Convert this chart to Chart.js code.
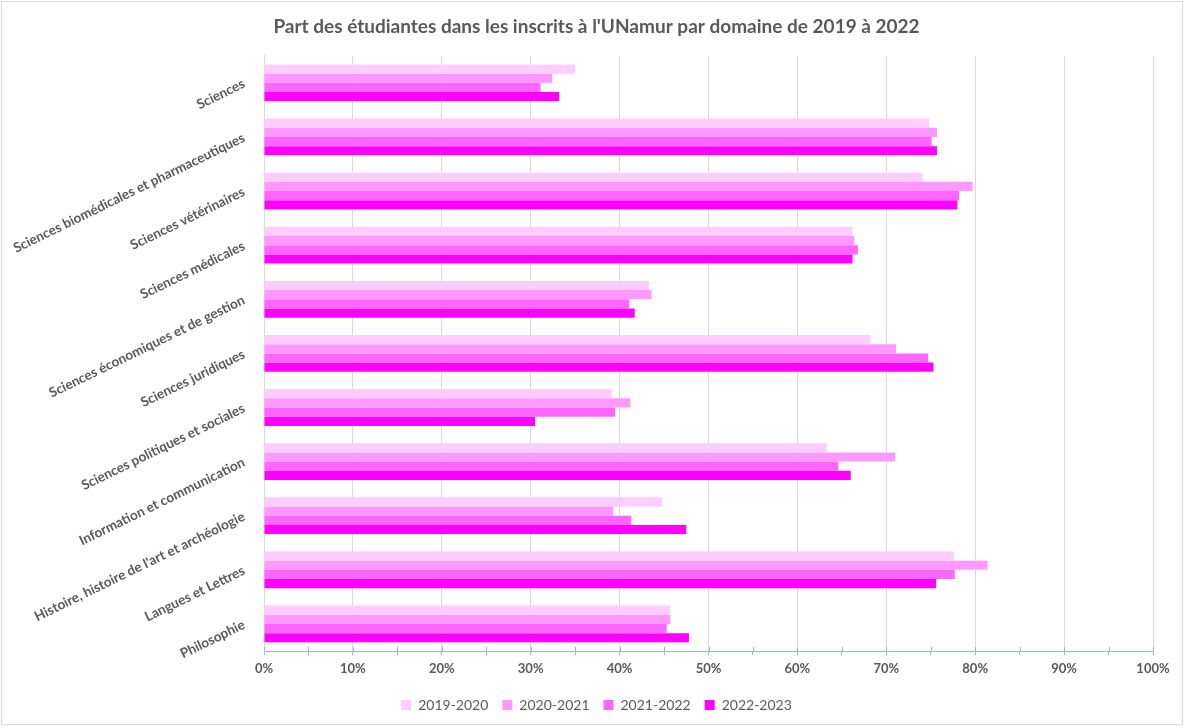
<!DOCTYPE html>
<html lang="fr">
<head>
<meta charset="utf-8">
<title>Part des étudiantes à l'UNamur</title>
<script src="https://cdn.jsdelivr.net/npm/chart.js@4/dist/chart.umd.min.js"></script>
<style>
  html, body { margin: 0; padding: 0; background: #ffffff; }
  #wrap { position: relative; width: 1185px; height: 728px; }
</style>
</head>
<body>
<div id="wrap"><canvas id="chart"></canvas></div>
<script>
// Domaines d'études (axe vertical)
const domaines = [
  'Sciences',
  'Sciences biomédicales et pharmaceutiques',
  'Sciences vétérinaires',
  'Sciences médicales',
  'Sciences économiques et de gestion',
  'Sciences juridiques',
  'Sciences politiques et sociales',
  'Information et communication',
  "Histoire, histoire de l'art et archéologie",
  'Langues et Lettres',
  'Philosophie'
];

// Années académiques
const annees = ['2019-2020', '2020-2021', '2021-2022', '2022-2023'];

// Part des étudiantes (%) par domaine, une liste par année
const part2019 = [35.0, 74.8, 74.1, 66.2, 43.3, 68.2, 39.1, 63.3, 44.8, 77.6, 45.7];
const part2020 = [32.4, 75.7, 79.7, 66.4, 43.6, 71.1, 41.2, 71.0, 39.3, 81.4, 45.7];
const part2021 = [31.1, 75.1, 78.2, 66.8, 41.1, 74.7, 39.5, 64.6, 41.3, 77.7, 45.3];
const part2022 = [33.2, 75.7, 78.0, 66.2, 41.7, 75.3, 30.5, 66.0, 47.5, 75.6, 47.8];

// Graduations de l'axe horizontal
const axeMin = 0;
const axeMax = 100;
const pasLibelle = 10;
const pasGraduation = 5;

const couleurs = ['#ffccff', '#ff99ff', '#ff66ff', '#ff00ff'];
const series = [part2019, part2020, part2021, part2022];

const texteGris = '#595959';
const gris = '#d9d9d9';
const bleuAxe = '#8fb8e4';
const police = 'Lato, Calibri, "Open Sans", sans-serif';

// Fond blanc et cadre gris autour du graphique
const cadre = {
  id: 'cadre',
  beforeDraw(chart) {
    const ctx = chart.ctx;
    ctx.save();
    ctx.fillStyle = '#ffffff';
    ctx.fillRect(0, 0, chart.width, chart.height);
    ctx.strokeStyle = gris;
    ctx.lineWidth = 1;
    ctx.strokeRect(1.5, 1.5, chart.width - 4, chart.height - 5);
    ctx.restore();
  }
};

// Les libellés inclinés de l'axe vertical peuvent déborder dans la marge gauche
const libellesLarges = {
  id: 'libellesLarges',
  afterLayout(chart) {
    chart.scales.y.left = 0;
  }
};

// Petites graduations qui croisent l'axe horizontal (partie au-dessus de l'axe)
const graduationsCroisees = {
  id: 'graduationsCroisees',
  afterDatasetsDraw(chart) {
    const x = chart.scales.x;
    const ctx = chart.ctx;
    ctx.save();
    ctx.strokeStyle = bleuAxe;
    ctx.lineWidth = 1;
    ctx.beginPath();
    x.ticks.forEach((t, i) => {
      const px = Math.round(x.getPixelForTick(i)) + 0.5;
      ctx.moveTo(px, x.top - 4);
      ctx.lineTo(px, x.top);
    });
    ctx.stroke();
    ctx.restore();
  }
};

new Chart(document.getElementById('chart'), {
  type: 'bar',
  data: {
    labels: domaines,
    datasets: annees.map((a, i) => ({
      label: a,
      data: series[i],
      backgroundColor: couleurs[i],
      borderWidth: 0,
      categoryPercentage: 0.68,
      barPercentage: 1.0
    }))
  },
  plugins: [cadre, libellesLarges, graduationsCroisees],
  options: {
    indexAxis: 'y',
    responsive: true,
    maintainAspectRatio: false,
    animation: false,
    layout: { padding: { left: 40, right: 32, top: 0, bottom: 6 } },
    plugins: {
      title: {
        display: true,
        text: "Part des étudiantes dans les inscrits à l'UNamur par domaine de 2019 à 2022",
        color: texteGris,
        font: { family: police, size: 19, weight: 'bold' },
        padding: { top: 15, bottom: 18 }
      },
      legend: {
        position: 'bottom',
        labels: {
          color: texteGris,
          boxWidth: 10,
          boxHeight: 10,
          padding: 14,
          font: { family: police, size: 14 }
        }
      },
      tooltip: { enabled: false }
    },
    scales: {
      x: {
        min: axeMin,
        max: axeMax,
        afterFit(scale) { scale.height = 33; },
        ticks: {
          stepSize: pasGraduation,
          color: texteGris,
          padding: 6,
          maxRotation: 0,
          font: { family: police, size: 13, weight: 'bold' },
          callback: (v) => (v % pasLibelle === 0 ? v + '%' : '')
        },
        grid: {
          color: (c) => (c.tick && c.tick.value % pasLibelle === 0 && c.tick.value !== axeMin ? gris : 'rgba(0,0,0,0)'),
          tickColor: bleuAxe,
          tickLength: 4,
          lineWidth: 1
        },
        border: { display: true, color: bleuAxe, width: 1 }
      },
      y: {
        afterFit(scale) { scale.width = 224; },
        ticks: {
          color: texteGris,
          padding: 12,
          minRotation: 26,
          maxRotation: 26,
          autoSkip: false,
          font: { family: police, size: 13.5, weight: 'bold' }
        },
        grid: { display: false },
        border: { display: true, color: gris, width: 1 }
      }
    }
  }
});
</script>
</body>
</html>
